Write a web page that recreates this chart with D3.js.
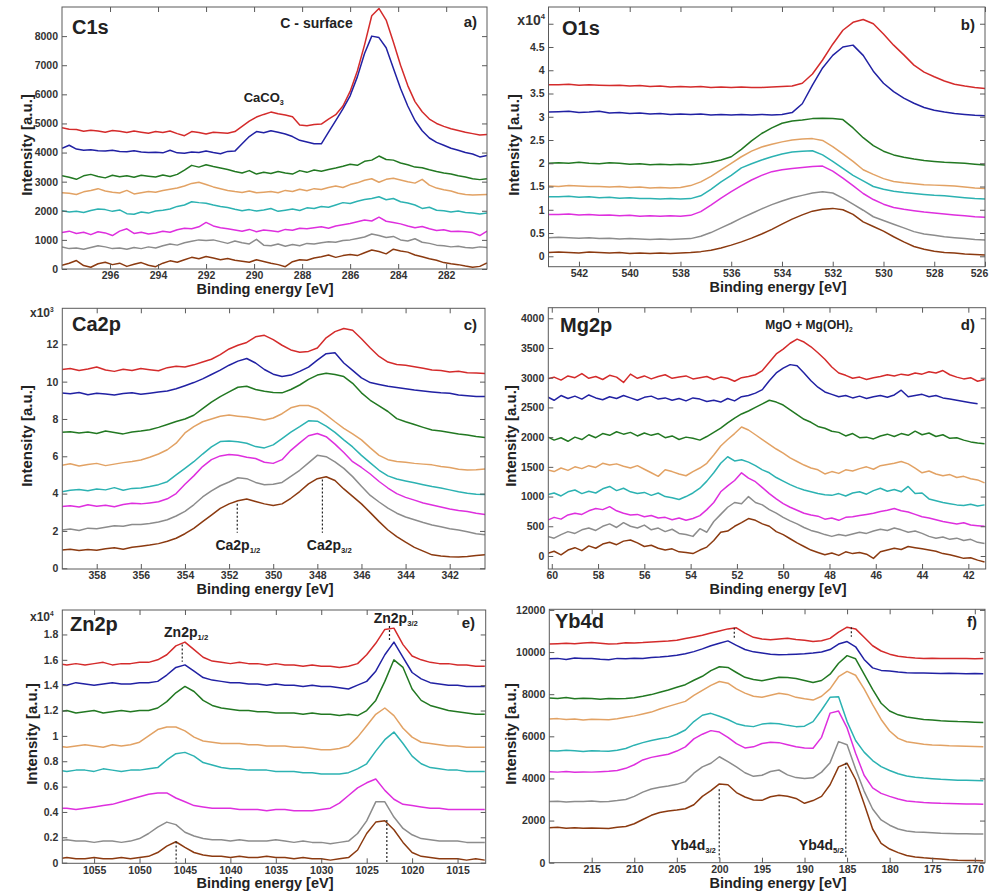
<!DOCTYPE html>
<html>
<head>
<meta charset="utf-8">
<script src="https://cdn.jsdelivr.net/npm/d3@7"></script>
<style>
  html, body { margin: 0; padding: 0; background: #fff; }
  svg { display: block; font-family: "Liberation Sans", Arial, Helvetica, sans-serif; font-weight: bold; }
</style>
</head>
<body>
<svg id="fig" width="991" height="895"></svg>
<script>
// Spectrum colours, one per sample (top to bottom in every panel)
const seriesColors = ["#d42b2b", "#2121a3", "#227822", "#e2a264", "#2cb2b2", "#de2fde", "#8c8c8c", "#8b3a10"];

// ---------- C1s : energy grid start/step (eV) and counts ----------
const c1sStart = 298.0, c1sStep = 0.3;
const c1sSeries = [
  [4850,4800,4790,4730,4770,4740,4700,4760,4730,4690, 4740,4700,4660,4720,4690,4740,4650,4580,4720,4690,
   4640,4700,4680,4660,4720,4900,5080,5220,5310,5390, 5330,5290,5230,4950,4920,4960,4980,5150,5300,5600,
   6100,6800,7700,8700,8950,8550,7800,7000,6300,5750, 5400,5150,5000,4900,4820,4760,4700,4650,4600,4620],
  [4150,4250,4120,4080,4100,4060,4050,4080,4040,4030, 4060,4020,4000,4010,3990,4080,3990,3980,4020,4000,
   4050,4000,3960,4040,4050,4300,4550,4720,4680,4750, 4700,4640,4550,4420,4360,4300,4300,4700,5100,5500,
   5950,6600,7400,8000,7950,7600,6900,6200,5600,5100, 4750,4500,4350,4250,4150,4080,4000,3950,3850,3900],
  [3200,3150,3080,3200,3250,3180,3130,3220,3170,3200, 3150,3220,3190,3160,3230,3180,3250,3400,3560,3500,
   3580,3520,3470,3420,3350,3300,3380,3260,3320,3280, 3350,3300,3260,3380,3320,3400,3360,3420,3470,3530,
   3600,3560,3700,3740,3880,3760,3740,3640,3580,3500, 3480,3410,3350,3300,3260,3200,3160,3100,3070,3100],
  [2620,2600,2560,2650,2700,2760,2680,2640,2610,2700, 2580,2620,2660,2640,2700,2740,2780,2850,2940,2980,
   2900,2820,2760,2700,2660,2630,2680,2620,2640,2660, 2620,2700,2660,2740,2690,2760,2730,2800,2850,2800,
   2900,2960,3050,3100,2980,3080,3120,3060,3000,2950, 3080,2880,2780,2720,2680,2600,2560,2540,2550,2560],
  [2000,1960,1980,1940,2010,2060,2040,1980,2030,1900, 1880,1960,1920,1990,2020,2060,2150,2200,2310,2280,
   2260,2200,2150,2110,2050,2000,2040,1990,2030,2080, 1980,2020,2060,2010,2100,2080,2150,2120,2200,2280,
   2250,2330,2390,2420,2480,2380,2420,2310,2270,2200, 2080,2120,2020,2000,1960,1990,1940,1920,1890,1920],
  [1250,1300,1220,1260,1180,1280,1240,1150,1300,1380, 1220,1260,1200,1240,1300,1260,1350,1400,1380,1450,
   1600,1480,1420,1380,1340,1300,1360,1280,1340,1310, 1280,1360,1330,1400,1380,1420,1450,1400,1480,1520,
   1560,1620,1680,1650,1780,1640,1600,1550,1480,1420, 1460,1380,1320,1350,1290,1300,1280,1250,1150,1300],
  [760,700,720,680,740,800,760,700,720,680, 740,700,760,720,800,860,820,900,950,1000,
   980,1000,940,880,960,900,860,1020,820,800, 860,780,840,800,880,860,900,940,920,980,
   1000,1050,1100,1200,1150,1080,1120,1000,960,1040, 920,880,820,800,760,780,740,720,760,740],
  [130,200,290,120,60,180,230,150,200,90, 160,220,130,80,200,280,230,320,400,350,
   430,380,320,360,300,270,230,320,260,200, 150,80,250,320,300,380,420,480,400,460,
   500,460,560,650,600,520,680,620,580,480, 420,350,300,220,180,150,100,60,90,210]
];
const c1sXTicks = [296, 294, 292, 290, 288, 286, 284, 282];
const c1sYTicks = [0, 1000, 2000, 3000, 4000, 5000, 6000, 7000, 8000];

// ---------- O1s (x10^4 counts) ----------
const o1sStart = 543.2, o1sStep = 0.4;
const o1sSeries = [
  [3.69,3.69,3.70,3.68,3.69,3.68,3.67,3.68,3.66,3.67, 3.65,3.66,3.64,3.65,3.64,3.65,3.63,3.64,3.63,3.64,
   3.63,3.63,3.64,3.65,3.66,3.72,3.92,4.22,4.56,4.86, 5.03,5.09,5.00,4.78,4.54,4.33,4.11,3.96,3.86,3.77,
   3.70,3.66,3.63,3.61],
  [3.10,3.11,3.12,3.09,3.10,3.12,3.08,3.09,3.07,3.08, 3.06,3.07,3.05,3.06,3.05,3.06,3.04,3.05,3.04,3.05,
   3.04,3.05,3.04,3.05,3.09,3.28,3.68,4.05,4.32,4.50, 4.54,4.32,3.98,3.72,3.54,3.40,3.29,3.20,3.14,3.10,
   3.07,3.05,3.03,3.02],
  [2.00,2.01,2.00,2.02,2.00,1.99,2.01,2.00,1.98,1.99, 1.97,1.98,1.97,1.98,1.97,1.99,2.02,2.07,2.14,2.30,
   2.48,2.64,2.76,2.86,2.91,2.93,2.96,2.97,2.96,2.94, 2.76,2.55,2.38,2.26,2.18,2.13,2.09,2.06,2.04,2.02,
   2.01,2.00,1.98,1.96],
  [1.51,1.50,1.52,1.51,1.50,1.50,1.49,1.50,1.48,1.49, 1.47,1.48,1.47,1.48,1.52,1.60,1.72,1.86,2.00,2.14,
   2.26,2.35,2.41,2.46,2.50,2.52,2.53,2.49,2.36,2.20, 2.04,1.86,1.76,1.67,1.61,1.58,1.56,1.54,1.53,1.52,
   1.51,1.49,1.47,1.46],
  [1.28,1.28,1.29,1.27,1.28,1.26,1.27,1.25,1.26,1.24, 1.24,1.23,1.24,1.23,1.24,1.30,1.44,1.60,1.74,1.90,
   1.99,2.07,2.14,2.20,2.24,2.26,2.27,2.18,2.04,1.89, 1.74,1.62,1.50,1.44,1.40,1.37,1.35,1.33,1.31,1.30,
   1.28,1.26,1.24,1.23],
  [0.90,0.90,0.91,0.89,0.90,0.88,0.89,0.87,0.88,0.86, 0.87,0.86,0.87,0.86,0.88,0.96,1.10,1.25,1.39,1.52,
   1.64,1.74,1.82,1.86,1.89,1.91,1.93,1.94,1.83,1.68, 1.52,1.35,1.22,1.12,1.05,1.01,0.98,0.95,0.93,0.91,
   0.89,0.87,0.85,0.84],
  [0.40,0.41,0.40,0.39,0.40,0.38,0.39,0.37,0.38,0.37, 0.36,0.37,0.36,0.37,0.38,0.43,0.51,0.61,0.71,0.82,
   0.92,1.02,1.11,1.19,1.26,1.31,1.36,1.39,1.36,1.25, 1.12,0.99,0.85,0.77,0.69,0.61,0.53,0.48,0.45,0.42,
   0.40,0.38,0.36,0.35],
  [0.08,0.09,0.08,0.07,0.09,0.08,0.07,0.08,0.06,0.07, 0.06,0.07,0.06,0.07,0.08,0.10,0.13,0.18,0.24,0.31,
   0.39,0.48,0.58,0.69,0.80,0.89,0.97,1.01,1.03,1.00, 0.90,0.74,0.64,0.54,0.42,0.31,0.21,0.15,0.11,0.08,
   0.07,0.05,0.04,0.03]
];
const o1sXTicks = [542, 540, 538, 536, 534, 532, 530, 528, 526];
const o1sYTicks = [0, 0.5, 1, 1.5, 2, 2.5, 3, 3.5, 4, 4.5, 5];

// ---------- Ca2p (x10^3 counts) ----------
const ca2pStart = 359.6, ca2pStep = 0.4;
const ca2pSeries = [
  [10.65,10.70,10.60,10.68,10.78,10.62,10.55,10.66,10.60,10.70, 10.64,10.58,10.75,10.82,10.78,10.90,11.05,11.20,11.45,11.75,
   11.95,12.10,12.40,12.48,12.25,11.95,11.70,11.58,11.62,11.80, 12.35,12.68,12.85,12.75,12.30,11.80,11.35,11.05,10.92,10.88,
   10.80,10.72,10.62,10.60,10.52,10.56,10.48,10.46,10.44],
  [9.40,9.35,9.42,9.30,9.38,9.34,9.28,9.36,9.40,9.32, 9.38,9.45,9.50,9.62,9.78,9.95,10.15,10.38,10.62,10.88,
   11.10,11.24,11.00,10.65,10.40,10.28,10.35,10.55,10.78,11.15, 11.50,11.55,11.00,10.60,10.20,9.95,9.85,9.75,9.68,9.62,
   9.55,9.50,9.45,9.40,9.38,9.28,9.25,9.20,9.20],
  [7.28,7.32,7.25,7.30,7.22,7.35,7.28,7.20,7.30,7.35, 7.42,7.55,7.70,7.86,8.00,8.20,8.55,8.90,9.20,9.45,
   9.70,9.75,9.58,9.48,9.42,9.40,9.58,9.82,10.12,10.35, 10.45,10.38,10.27,9.91,9.40,9.00,8.70,8.40,8.02,7.85,
   7.70,7.55,7.41,7.35,7.28,7.20,7.14,7.06,7.00],
  [5.52,5.60,5.48,5.56,5.62,5.50,5.58,5.66,5.72,5.80, 5.95,6.12,6.35,6.70,7.25,7.59,7.85,8.00,8.15,8.21,
   8.15,8.10,8.02,7.95,8.05,8.28,8.60,8.72,8.72,8.55, 8.22,7.85,7.50,7.20,6.88,6.45,6.05,5.82,5.72,5.68,
   5.62,5.58,5.54,5.45,5.40,5.30,5.26,5.28,5.32],
  [4.10,4.18,4.22,4.15,4.25,4.20,4.32,4.18,4.28,4.30, 4.38,4.48,4.64,5.00,5.35,5.71,6.12,6.50,6.79,6.82,
   6.78,6.70,6.52,6.45,6.61,6.95,7.30,7.59,7.90,7.88, 7.62,7.28,6.88,6.50,6.05,5.65,5.25,4.95,4.78,4.68,
   4.58,4.48,4.38,4.30,4.20,4.10,4.02,3.96,3.95],
  [3.30,3.35,3.28,3.40,3.32,3.38,3.30,3.42,3.48,3.45, 3.50,3.56,3.72,4.00,4.50,4.95,5.45,5.82,6.02,6.10,
   6.05,5.95,5.88,5.68,5.62,5.82,6.32,6.72,7.10,7.22, 7.05,6.65,6.20,5.71,5.40,5.05,4.65,4.30,4.00,3.80,
   3.65,3.50,3.39,3.28,3.18,3.10,3.04,2.95,2.88],
  [2.05,2.10,2.02,2.15,2.12,2.20,2.28,2.25,2.35,2.35, 2.40,2.48,2.60,2.80,3.05,3.40,3.82,4.15,4.42,4.62,
   4.85,4.80,4.60,4.48,4.50,4.60,4.92,5.25,5.65,6.05, 5.98,5.70,5.35,4.91,4.40,3.90,3.55,3.22,2.95,2.75,
   2.60,2.45,2.32,2.22,2.12,2.05,1.96,1.85,1.80],
  [0.98,1.02,0.95,1.00,0.97,1.05,1.10,1.02,1.12,1.18, 1.24,1.32,1.45,1.61,1.85,2.14,2.50,2.85,3.21,3.45,
   3.62,3.71,3.58,3.45,3.36,3.45,3.75,4.11,4.52,4.80, 4.90,4.70,4.25,3.85,3.45,2.98,2.50,2.05,1.70,1.40,
   1.12,0.92,0.72,0.66,0.62,0.60,0.63,0.68,0.72]
];
const ca2pXTicks = [358, 356, 354, 352, 350, 348, 346, 344, 342];
const ca2pYTicks = [0, 2, 4, 6, 8, 10, 12];

// ---------- Mg2p ----------
const mg2pStart = 60.2, mg2pStep = 0.3;
const mg2pSeries = [
  [2980,3010,2960,3030,3000,3070,2990,3020,2970,3040, 3010,2920,3060,2990,3030,2980,3020,3050,2990,3010,
   3030,2980,3000,3020,2970,3010,2990,2940,3000,3020, 3050,3120,3260,3400,3480,3580,3650,3600,3520,3420,
   3310,3180,3080,3040,2990,3010,2970,3000,3020,3050, 3030,3060,3040,3080,3060,3100,3080,3120,3050,3010,
   2980,3000,2940,2970],
  [2680,2620,2700,2650,2690,2640,2710,2660,2630,2680, 2650,2700,2660,2620,2670,2690,2640,2660,2620,2650,
   2610,2660,2640,2600,2620,2590,2650,2610,2680,2700, 2740,2800,2950,3080,3160,3220,3200,3080,2950,2840,
   2760,2720,2680,2700,2660,2690,2650,2680,2700,2670, 2710,2790,2680,2700,2720,2680,2700,2660,2640,2620,
   2600,2580,2560,null],
  [2010,1950,1990,1930,2000,1960,2040,1990,2060,2030, 2090,2050,2080,2020,2070,2030,2060,1990,2020,1960,
   2000,1980,1950,2010,2080,2150,2240,2320,2390,2440, 2500,2560,2620,2590,2540,2460,2380,2300,2250,2180,
   2150,2100,2080,2020,2060,1990,2000,1970,2020,2050, 2010,2060,2030,2100,2040,2070,2010,2040,1980,1990,
   1950,1920,1900,1890],
  [1450,1420,1480,1440,1500,1470,1520,1490,1560,1530, 1550,1510,1480,1520,1460,1400,1340,1450,1420,1380,
   1350,1420,1480,1560,1700,1850,1960,2060,2170,2120, 2040,1960,1880,1800,1730,1650,1590,1530,1480,1450,
   1380,1420,1390,1450,1430,1470,1500,1460,1520,1540, 1560,1590,1550,1480,1400,1430,1380,1350,1370,1320,
   1340,1300,1280,1230],
  [1030,1060,1010,1080,1110,1050,1090,1060,1130,1170, 1100,1140,1080,1050,1070,1020,1060,1000,980,950,
   1000,1060,1140,1260,1400,1560,1670,1600,1620,1580, 1520,1450,1400,1320,1260,1200,1150,1110,1080,1050,
   1030,1020,1050,1010,1060,1080,1040,1100,1140,1090, 1120,1080,1170,1050,1060,960,930,900,880,860,
   850,870,840,860],
  [600,650,620,690,720,700,760,800,780,830, 760,720,690,700,660,680,640,650,610,640,
   600,630,680,780,900,1080,1180,1270,1400,1310, 1250,1150,1050,960,880,820,770,720,690,670,
   620,640,600,650,660,680,700,720,750,770, 800,760,740,700,660,640,610,580,560,540,
   560,520,510,500],
  [330,300,360,410,380,440,470,430,500,540, 480,560,500,470,520,440,470,410,450,380,
   360,330,460,400,580,700,820,900,880,1000, 900,860,780,720,650,590,540,480,430,400,
   360,330,360,340,370,400,380,420,450,430, 470,440,400,420,380,330,300,320,280,300,
   260,280,230,210],
  [40,80,20,100,140,90,170,130,200,230, 190,250,270,220,160,180,130,100,120,70,
   60,40,100,150,260,400,420,500,560,630, 600,540,500,410,360,290,220,160,100,60,
   20,50,10,70,40,60,30,-40,70,100, 130,110,160,140,120,100,80,40,20,-10,
   -40,-30,-70,-100]
];
const mg2pXTicks = [60, 58, 56, 54, 52, 50, 48, 46, 44, 42];
const mg2pYTicks = [0, 500, 1000, 1500, 2000, 2500, 3000, 3500, 4000];

// ---------- Zn2p (x10^4 counts) ----------
const zn2pStart = 1059, zn2pStep = 1;
const zn2pSeries = [
  [1.57,1.56,1.57,1.56,1.57,1.58,1.56,1.57,1.57,1.58, 1.58,1.60,1.64,1.71,1.74,1.68,1.62,1.59,1.58,1.57,
   1.58,1.57,1.57,1.56,1.57,1.56,1.56,1.55,1.56,1.55, 1.55,1.54,1.55,1.57,1.64,1.73,1.84,1.85,1.72,1.63,
   1.60,1.58,1.57,1.57,1.56,1.56,1.55,1.55],
  [1.41,1.40,1.42,1.41,1.40,1.41,1.42,1.41,1.41,1.42, 1.42,1.43,1.48,1.54,1.56,1.51,1.46,1.44,1.43,1.42,
   1.42,1.41,1.41,1.40,1.41,1.40,1.40,1.39,1.40,1.39, 1.39,1.38,1.37,1.40,1.43,1.51,1.64,1.74,1.62,1.50,
   1.45,1.42,1.41,1.40,1.40,1.39,1.39,1.39],
  [1.19,1.20,1.18,1.19,1.20,1.18,1.19,1.20,1.19,1.20, 1.20,1.22,1.27,1.34,1.39,1.35,1.28,1.24,1.22,1.21,
   1.20,1.20,1.19,1.19,1.18,1.18,1.18,1.17,1.18,1.17, 1.17,1.16,1.17,1.16,1.20,1.28,1.43,1.60,1.54,1.37,
   1.28,1.24,1.22,1.20,1.19,1.18,1.17,1.17],
  [0.92,0.91,0.92,0.93,0.92,0.91,0.93,0.92,0.93,0.95, 1.00,1.05,1.07,1.07,1.04,0.99,0.96,0.95,0.94,0.94,
   0.94,0.93,0.93,0.92,0.92,0.92,0.91,0.91,0.90,0.89, 0.89,0.90,0.92,0.99,1.08,1.17,1.22,1.16,1.06,0.99,
   0.95,0.94,0.93,0.92,0.92,0.91,0.91,0.91],
  [0.73,0.72,0.73,0.73,0.72,0.74,0.73,0.72,0.73,0.73, 0.74,0.75,0.81,0.86,0.87,0.84,0.79,0.77,0.75,0.74,
   0.74,0.73,0.73,0.73,0.72,0.72,0.72,0.71,0.71,0.70, 0.70,0.70,0.71,0.74,0.78,0.88,0.97,1.03,0.94,0.84,
   0.78,0.75,0.74,0.73,0.73,0.72,0.72,0.72],
  [0.43,0.43,0.42,0.43,0.44,0.45,0.46,0.48,0.50,0.52, 0.54,0.55,0.55,0.51,0.48,0.45,0.44,0.43,0.43,0.43,
   0.42,0.42,0.42,0.41,0.42,0.42,0.41,0.41,0.41,0.42, 0.43,0.47,0.53,0.59,0.63,0.66,0.57,0.50,0.46,0.45,
   0.44,0.43,0.43,0.42,0.42,0.42,0.42,0.42],
  [0.17,0.18,0.17,0.17,0.16,0.17,0.17,0.16,0.17,0.19, 0.23,0.28,0.32,0.30,0.24,0.21,0.19,0.18,0.18,0.17,
   0.18,0.17,0.17,0.17,0.18,0.17,0.16,0.17,0.16,0.16, 0.15,0.16,0.17,0.23,0.33,0.48,0.48,0.36,0.27,0.22,
   0.19,0.18,0.17,0.17,0.17,0.16,0.16,0.16],
  [0.03,0.04,0.03,0.03,0.04,0.03,0.03,0.04,0.03,0.04, 0.05,0.08,0.13,0.165,0.12,0.08,0.06,0.05,0.05,0.04,
   0.05,0.04,0.04,0.05,0.04,0.04,0.03,0.04,0.03,0.03, 0.02,0.03,0.04,0.10,0.23,0.32,0.33,0.26,0.16,0.08,
   0.05,0.04,0.03,0.03,0.03,0.02,0.03,0.02]
];
const zn2pXTicks = [1055, 1050, 1045, 1040, 1035, 1030, 1025, 1020, 1015];
const zn2pYTicks = [0, 0.2, 0.4, 0.6, 0.8, 1, 1.2, 1.4, 1.6, 1.8];

// ---------- Yb4d ----------
const yb4dStart = 220, yb4dStep = 1;
const yb4dSeries = [
  [10380,10400,10420,10400,10430,10450,10420,10380,10400,10440, 10430,10450,10480,10500,10520,10560,10640,10720,10800,10900,
   11000,11100,11150,10900,10700,10620,10580,10620,10650,10600, 10560,10500,10540,10650,10950,11180,11100,10700,10300,10050,
   9900,9800,9750,9720,9700,9710,9690,9700,9690,9700, 9680,9700],
  [9680,9700,9650,9720,9690,9700,9660,9640,9700,9680, 9710,9690,9740,9760,9800,9850,9920,10020,10150,10300,
   10420,10530,10320,10120,10010,9960,9900,9870,9880,9900, 9920,9950,10000,10120,10380,10500,10250,9650,9250,9130,
   9100,9050,9020,9000,9000,8990,8980,8990,8980,8970, 8980,8970],
  [7820,7800,7840,7780,7810,7790,7760,7800,7780,7800, 7830,7900,7980,8090,8200,8330,8450,8660,8850,9120,
   9300,9270,9030,8800,8700,8640,8720,8800,8790,8740, 8650,8550,8650,8950,9470,9830,9680,8950,8230,7570,
   7200,7020,6920,6860,6800,6770,6740,6720,6700,6690, 6670,6650],
  [6820,6840,6800,6820,6780,6810,6800,6790,6830,6900, 6970,7060,7150,7300,7420,7540,7660,7940,8180,8420,
   8600,8520,8250,8050,7900,7850,7950,8040,7990,7850, 7780,7720,7900,8250,8830,9080,8900,8250,7500,6800,
   6250,5900,5740,5680,5620,5590,5570,5550,5540,5530, 5520,5510],
  [5320,5300,5340,5310,5280,5320,5300,5290,5340,5420, 5580,5700,5800,5880,5950,6100,6300,6700,7000,7090,
   6950,6800,6600,6500,6460,6580,6620,6600,6520,6460, 6480,6700,7250,7850,7880,6700,5800,5250,4850,4560,
   4380,4220,4120,4060,4020,3990,3960,3940,3920,3910, 3900,3890],
  [4320,4300,4330,4290,4310,4300,4320,4340,4380,4480, 4650,4880,5000,5080,5150,5300,5500,5880,6100,6270,
   6200,5950,5650,5450,5500,5660,5720,5700,5600,5500, 5450,5430,5950,7100,7200,6400,5200,4150,3550,3290,
   3150,3020,2930,2890,2860,2840,2820,2810,2800,2790, 2790,2780],
  [2900,2920,2880,2910,2900,2930,2890,2910,2950,3000, 3150,3350,3500,3580,3640,3720,3850,4250,4550,4720,
   5030,4800,4550,4270,4100,4150,4330,4400,4170,4040, 4000,4030,4300,4750,5750,5600,4450,3400,2550,2030,
   1780,1600,1510,1460,1440,1420,1400,1390,1380,1370, 1360,1360],
  [1660,1680,1640,1660,1630,1650,1640,1620,1680,1720, 1850,2050,2250,2380,2450,2500,2560,2750,3150,3420,
   3740,3700,3330,3120,2980,2960,3130,3200,3150,3050, 2820,2950,3150,3700,4550,4720,3950,2800,1600,920,
   650,480,340,270,230,200,170,140,120,110, 100,95]
];
const yb4dXTicks = [215, 210, 205, 200, 195, 190, 185, 180, 175, 170];
const yb4dYTicks = [0, 2000, 4000, 6000, 8000, 10000, 12000];

// ---------- Panel layout ----------
const panels = [
  { id: "a", title: "C1s", letter: "a)", start: c1sStart, step: c1sStep, series: c1sSeries,
    frame: [62, 7, 487, 269], xDomain: [298, 280.3], yDomain: [0, 9000],
    xTicks: c1sXTicks, yTicks: c1sYTicks, yFormat: d => String(d),
    titlePos: [72, 34], letterPos: [477, 27], xLabelX: 265, yLabelPos: [27, 145],
    notes: [
      { parts: [["C - surface"]], at: [287.4, 8280], size: 14 },
      { parts: [["CaCO"], ["3", "sub"]], at: [289.6, 5730], size: 13 }
    ], guides: [] },
  { id: "b", title: "O1s", letter: "b)", start: o1sStart, step: o1sStep, series: o1sSeries,
    frame: [548.5, 7, 985, 266.7], xDomain: [543.2, 526], yDomain: [-0.224, 5.36],
    xTicks: o1sXTicks, yTicks: o1sYTicks, yFormat: d => d === 5 ? "" : String(d),
    edgeLabelShift: { value: 526, dx: -6 },
    titlePos: [562, 35], letterPos: [975, 30], xLabelX: 778, yLabelPos: [514, 145],
    exponent: { text: "x10", sup: "4", pos: [545, 25], size: 14, anchor: "end" },
    notes: [], guides: [] },
  { id: "c", title: "Ca2p", letter: "c)", start: ca2pStart, step: ca2pStep, series: ca2pSeries,
    frame: [62.3, 308.3, 485, 569], xDomain: [359.56, 340.4], yDomain: [-0.04, 13.93],
    xTicks: ca2pXTicks, yTicks: ca2pYTicks, yFormat: d => String(d),
    titlePos: [72, 331], letterPos: [477, 330], xLabelX: 265, yLabelPos: [27, 436],
    exponent: { text: "x10", sup: "3", pos: [30, 317], size: 12, anchor: "start" },
    notes: [
      { parts: [["Ca2p"], ["1/2", "sub"]], at: [351.6, 0.98], size: 14 },
      { parts: [["Ca2p"], ["3/2", "sub"]], at: [347.46, 0.98], size: 14 }
    ],
    guides: [[351.63, 3.45, 1.9], [347.77, 4.75, 1.9]] },
  { id: "d", title: "Mg2p", letter: "d)", start: mg2pStart, step: mg2pStep, series: mg2pSeries,
    frame: [548.3, 307.7, 985.7, 569], xDomain: [60.15, 41.25], yDomain: [-219, 4178],
    xTicks: mg2pXTicks, yTicks: mg2pYTicks, yFormat: d => String(d),
    titlePos: [560, 332], letterPos: [975, 330], xLabelX: 778, yLabelPos: [511, 436],
    notes: [
      { parts: [["MgO + Mg(OH)"], ["2", "sub"]], at: [48.89, 3820], size: 12 }
    ], guides: [] },
  { id: "e", title: "Zn2p", letter: "e)", start: zn2pStart, step: zn2pStep, series: zn2pSeries,
    frame: [62.3, 610, 485.7, 863.3], xDomain: [1058.5, 1011.9], yDomain: [-0.005, 1.993],
    xTicks: zn2pXTicks, yTicks: zn2pYTicks, yFormat: d => String(d),
    titlePos: [70, 631], letterPos: [475, 628], xLabelX: 265, yLabelPos: [32, 734],
    exponent: { text: "x10", sup: "4", pos: [30, 621], size: 12, anchor: "start" },
    notes: [
      { parts: [["Zn2p"], ["1/2", "sub"]], at: [1044.87, 1.78], size: 14 },
      { parts: [["Zn2p"], ["3/2", "sub"]], at: [1021.8, 1.89], size: 14 }
    ],
    guides: [[1045.3, 1.72, 1.585], [1022.49, 1.867, 1.757], [1045.97, 0.166, 0], [1022.78, 0.337, 0]] },
  { id: "f", title: "Yb4d", letter: "f)", start: yb4dStart, step: yb4dStep, series: yb4dSeries,
    frame: [549.3, 609.3, 985, 862.7], xDomain: [219.98, 168.8], yDomain: [0, 12030],
    xTicks: yb4dXTicks, yTicks: yb4dYTicks, yFormat: d => String(d),
    titlePos: [555, 628], letterPos: [977, 627], xLabelX: 778, yLabelPos: [511, 734],
    notes: [
      { parts: [["Yb4d"], ["3/2", "sub"]], at: [203.05, 603], size: 14 },
      { parts: [["Yb4d"], ["5/2", "sub"]], at: [188.03, 603], size: 14 }
    ],
    guides: [[200.02, 3485, 209], [185.15, 4748, 209], [198.25, 11158, 10684], [184.5, 11177, 10732]] }
];

const svg = d3.select("#fig");
const axisColor = "#5a5a5a";
const textColor = "#333";

// Writes a label made of plain and subscript runs
function richText(sel, parts, size) {
  parts.forEach(([txt, kind]) => {
    if (kind === "sub") {
      sel.append("tspan").attr("font-size", size * 0.55).attr("dy", size * 0.22).text(txt);
    } else {
      sel.append("tspan").attr("font-size", size).attr("dy", 0).text(txt);
    }
  });
}

panels.forEach(p => {
  const [x0, y0, x1, y1] = p.frame;
  const w = x1 - x0, h = y1 - y0;
  const x = d3.scaleLinear().domain(p.xDomain).range([0, w]);
  const y = d3.scaleLinear().domain(p.yDomain).range([h, 0]);
  const g = svg.append("g").attr("transform", `translate(${x0},${y0})`);

  g.append("clipPath").attr("id", "clip-" + p.id)
    .append("rect").attr("width", w).attr("height", h);

  // spectra
  const line = d3.line()
    .defined(d => d[1] !== null)
    .x(d => x(d[0]))
    .y(d => y(d[1]));
  const plot = g.append("g").attr("clip-path", `url(#clip-${p.id})`);
  p.series.forEach((vals, k) => {
    const pts = vals.map((v, i) => [p.start - p.step * i, v]);
    plot.append("path")
      .datum(pts)
      .attr("fill", "none")
      .attr("stroke", seriesColors[k])
      .attr("stroke-width", 1.5)
      .attr("stroke-linejoin", "round")
      .attr("d", line);
  });

  // dotted peak markers
  p.guides.forEach(([e, vTop, vBot]) => {
    g.append("line")
      .attr("x1", x(e)).attr("x2", x(e))
      .attr("y1", y(vTop)).attr("y2", y(vBot))
      .attr("stroke", "#222").attr("stroke-width", 1.2)
      .attr("stroke-dasharray", "2,2");
  });

  // axes with inward ticks on all four sides
  const styleAxis = sel => {
    sel.select(".domain").remove();
    sel.selectAll(".tick line").attr("stroke", axisColor);
    sel.selectAll("text")
      .attr("fill", textColor)
      .attr("font-size", 10.5)
      .attr("font-weight", "bold")
      .attr("font-family", "'Liberation Sans', Arial, sans-serif");
  };
  const bottom = g.append("g").attr("transform", `translate(0,${h})`)
    .call(d3.axisBottom(x).tickValues(p.xTicks).tickSize(-5).tickPadding(3).tickFormat(d => String(d)))
    .call(styleAxis);
  if (p.edgeLabelShift) {
    bottom.selectAll(".tick text")
      .filter(d => d === p.edgeLabelShift.value)
      .attr("dx", p.edgeLabelShift.dx);
  }
  g.append("g")
    .call(d3.axisTop(x).tickValues(p.xTicks).tickSize(-5).tickFormat(""))
    .call(styleAxis);
  g.append("g")
    .call(d3.axisLeft(y).tickValues(p.yTicks).tickSize(-5).tickPadding(4).tickFormat(p.yFormat))
    .call(styleAxis);
  g.append("g").attr("transform", `translate(${w},0)`)
    .call(d3.axisRight(y).tickValues(p.yTicks).tickSize(-5).tickFormat(""))
    .call(styleAxis);

  g.append("rect").attr("width", w).attr("height", h)
    .attr("fill", "none").attr("stroke", axisColor).attr("stroke-width", 1);

  // annotations in data coordinates
  p.notes.forEach(n => {
    const t = g.append("text")
      .attr("x", x(n.at[0])).attr("y", y(n.at[1]))
      .attr("text-anchor", "middle")
      .attr("fill", "#222");
    richText(t, n.parts, n.size);
  });

  // panel title and letter
  svg.append("text").attr("x", p.titlePos[0]).attr("y", p.titlePos[1])
    .attr("font-size", 20).attr("fill", "#222").text(p.title);
  svg.append("text").attr("x", p.letterPos[0]).attr("y", p.letterPos[1])
    .attr("font-size", 15).attr("text-anchor", "end").attr("fill", "#222").text(p.letter);

  // scale exponent
  if (p.exponent) {
    const t = svg.append("text").attr("x", p.exponent.pos[0]).attr("y", p.exponent.pos[1])
      .attr("text-anchor", p.exponent.anchor).attr("fill", textColor)
      .attr("font-size", p.exponent.size);
    t.append("tspan").text(p.exponent.text);
    t.append("tspan").attr("font-size", p.exponent.size * 0.55)
      .attr("dy", -p.exponent.size * 0.45).text(p.exponent.sup);
  }

  // axis titles
  svg.append("text")
    .attr("x", p.xLabelX).attr("y", y1 + 25)
    .attr("text-anchor", "middle").attr("font-size", 14.5).attr("fill", "#222")
    .text("Binding energy [eV]");
  svg.append("text")
    .attr("transform", `translate(${p.yLabelPos[0]},${p.yLabelPos[1]}) rotate(-90)`)
    .attr("text-anchor", "middle").attr("dy", "0.35em")
    .attr("font-size", 15).attr("fill", "#222")
    .text("Intensity [a.u.]");
});
</script>
</body>
</html>
